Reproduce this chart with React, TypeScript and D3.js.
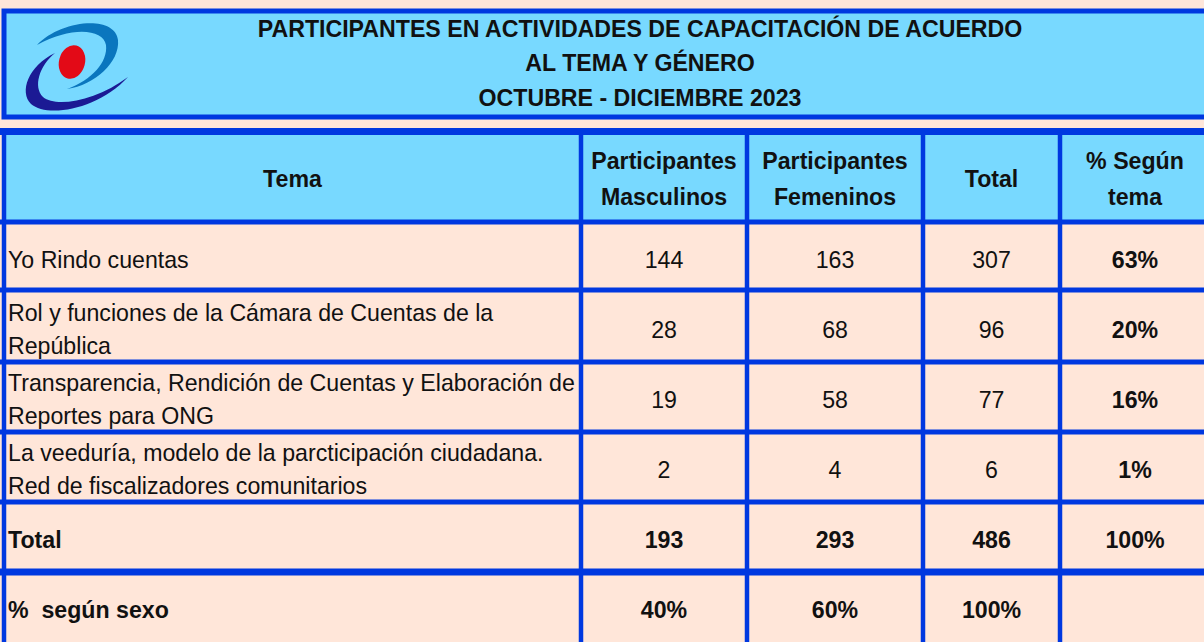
import React, { useEffect, useRef } from 'react'
import * as d3 from 'd3'

const titleLines = [
  'PARTICIPANTES EN ACTIVIDADES DE CAPACITACIÓN DE ACUERDO',
  'AL TEMA Y GÉNERO',
  'OCTUBRE - DICIEMBRE 2023',
]
const headers = [['Tema'], ['Participantes', 'Masculinos'], ['Participantes', 'Femeninos'], ['Total'], ['% Según', 'tema']]
const temas = [
  ['Yo Rindo cuentas'],
  ['Rol y funciones de la Cámara de Cuentas de la', 'República'],
  ['Transparencia, Rendición de Cuentas y Elaboración de', 'Reportes para ONG'],
  ['La veeduría, modelo de la parcticipación ciudadana.', 'Red de fiscalizadores comunitarios'],
]
const masculinos = [144, 28, 19, 2]
const femeninos = [163, 68, 58, 4]
const totales = [307, 96, 77, 6]
const pctTema = ['63%', '20%', '16%', '1%']
const totalRow = ['Total', '193', '293', '486', '100%']
const pctSexoRow = ['%  según sexo', '40%', '60%', '100%', '']

const BLUE = '#0038E0'
const CYAN = '#78D9FF'
const PEACH = '#FFE6D9'
const FONT = "'Liberation Sans Narrow', 'Arial Narrow', 'Liberation Sans', sans-serif"
const SX = 0.965

export default function App() {
  const ref = useRef<SVGSVGElement>(null)

  useEffect(() => {
    const svg = d3.select(ref.current)
    svg.selectAll('*').remove()

    const width = 1204
    const height = 642

    // column edges (line centres)
    const colEdges = [4, 581, 747, 923, 1060, 1210]
    // body rows
    const rows = d3.range(6)
    const y = d3.scaleBand<number>().domain(rows).range([222, 642])

    // text helper, slightly condensed like the original
    const label = (g: any, txt: string, x: number, yy: number, anchor: string, bold: boolean, size = 24) =>
      g.append('text')
        .attr('transform', `translate(${x},${yy}) scale(${SX},1)`)
        .attr('dy', '0.36em')
        .attr('text-anchor', anchor)
        .attr('font-family', FONT)
        .attr('font-weight', bold ? 'bold' : 'normal')
        .attr('font-size', size)
        .attr('fill', '#111')
        .style('white-space', 'pre')
        .text(txt)

    svg.append('rect').attr('width', width).attr('height', height).attr('fill', PEACH)

    // title box
    svg.append('rect').attr('x', 4).attr('y', 11).attr('width', width).attr('height', 106)
      .attr('fill', CYAN).attr('stroke', BLUE).attr('stroke-width', 5)

    // logo
    const logo = svg.append('g')
    logo.append('path')
      .attr('d', 'M37,45 C60,20 115,14 118,40 C120,62 95,85 67,89 C92,80 108,62 106,45 C103,29 72,26 37,45 Z')
      .attr('fill', '#0A76BE')
    logo.append('path')
      .attr('d', 'M55,53 C28,66 19,92 31,104 C47,118 98,110 128,77 C96,101 56,108 43,97 C33,87 39,66 55,53 Z')
      .attr('fill', '#1B1A94')
    logo.append('ellipse').attr('cx', 72).attr('cy', 62).attr('rx', 13).attr('ry', 17)
      .attr('transform', 'rotate(15,72,62)').attr('fill', '#E30A17')

    const title = svg.append('g')
    titleLines.forEach((t, i) => label(title, t, 640, 28 + i * 34.5, 'middle', true))

    // header background
    svg.append('rect').attr('x', 4).attr('y', 131).attr('width', width).attr('height', 91).attr('fill', CYAN)

    // header texts
    const head = svg.append('g')
    headers.forEach((lines, c) => {
      const cx = (colEdges[c] + colEdges[c + 1]) / 2
      lines.forEach((t, i) => label(head, t, cx, 178 + (i - (lines.length - 1) / 2) * 36, 'middle', true))
    })

    // body cells
    const bodyRows: { lines: string[]; bold: boolean; cells: string[] }[] = temas.map((t, i) => ({
      lines: t,
      bold: false,
      cells: [String(masculinos[i]), String(femeninos[i]), String(totales[i]), pctTema[i]],
    }))
    bodyRows.push({ lines: [totalRow[0]], bold: true, cells: totalRow.slice(1) })
    bodyRows.push({ lines: [pctSexoRow[0]], bold: true, cells: pctSexoRow.slice(1) })

    const body = svg.append('g')
    bodyRows.forEach((r, i) => {
      const cy = (y(i) as number) + y.bandwidth() / 2 + 2
      r.lines.forEach((t, k) => label(body, t, 8, cy + (k - (r.lines.length - 1) / 2) * 33, 'start', r.bold))
      r.cells.forEach((v, c) => {
        const cx = (colEdges[c + 1] + colEdges[c + 2]) / 2
        label(body, v, cx, cy, 'middle', r.bold || c === 3)
      })
    })

    // grid lines
    const lines = svg.append('g').attr('stroke', BLUE)
    lines.append('line').attr('x1', 0).attr('x2', width).attr('y1', 131.5).attr('y2', 131.5).attr('stroke-width', 7)
    lines.selectAll('line.h').data(rows).join('line').attr('class', 'h')
      .attr('x1', 0).attr('x2', width)
      .attr('y1', d => (y(d) as number) - (d === 1 ? 2 : 0)).attr('y2', d => (y(d) as number) - (d === 1 ? 2 : 0))
      .attr('stroke-width', d => (d === 5 ? 7 : 5))
    lines.selectAll('line.v').data(colEdges.slice(0, 5)).join('line').attr('class', 'v')
      .attr('x1', d => d).attr('x2', d => d).attr('y1', 128).attr('y2', height)
      .attr('stroke-width', 4.5)
  }, [])

  return (
    <svg ref={ref} width={1204} height={642} style={{ position: 'absolute', left: 0, top: 0 }} />
  )
}
